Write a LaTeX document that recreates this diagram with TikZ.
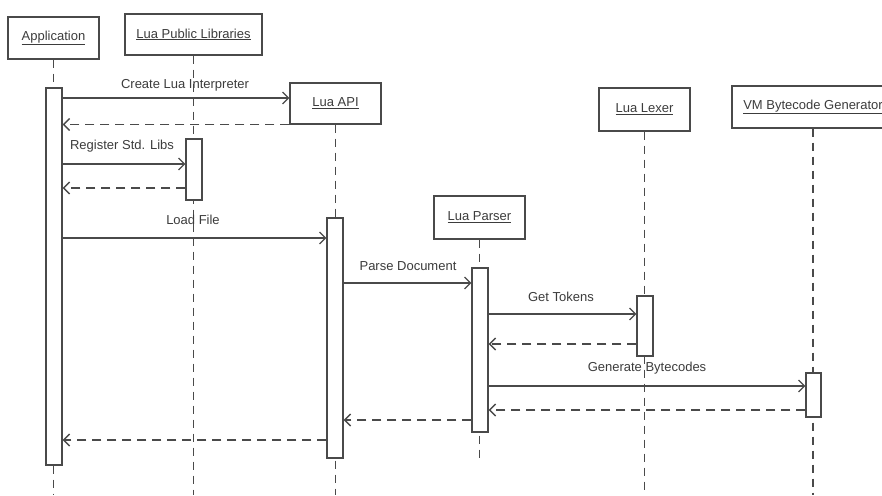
\documentclass[tikz,border=0pt]{standalone}
\usepackage{fontspec}
\setmainfont{Liberation Sans}
\usetikzlibrary{arrows.meta}
\definecolor{ink}{HTML}{4A4A4A}
\definecolor{txt}{HTML}{3C3C3C}
\begin{document}
\begin{tikzpicture}[x=1pt,y=-1pt,
  every node/.style={font=\fontsize{13}{15}\selectfont, text=txt},
  obj/.style={draw=ink, line width=1.3pt, fill=white, inner sep=0pt, minimum width=91pt, minimum height=42pt},
  actbar/.style={draw=ink, line width=1.2pt, fill=white, inner sep=0pt, minimum width=16pt},
  life/.style={draw=ink, line width=1.1pt, dash pattern=on 8pt off 6pt},
  call/.style={draw=ink, line width=1.2pt, -{Straight Barb[length=6pt,width=12pt]}},
  reply/.style={draw=ink, line width=1.4pt, dash pattern=on 9pt off 6pt, -{Straight Barb[length=6pt,width=12pt]}},
  lbl/.style={inner sep=0pt}
]
\useasboundingbox (0,0) rectangle (882,495);
\clip (0,0) rectangle (882,495);
\fill[white] (0,0) rectangle (882,495);

% objects
\node[obj] (app) at (53.5,38) {\underline{Application}};
\node[obj, minimum width=137pt, minimum height=41pt] (lib) at (193.5,34.5) {\underline{Lua Public Libraries}};
\node[obj, minimum height=41pt] (api) at (335.5,103.5) {\underline{Lua API}};
\node[obj, minimum height=43pt] (par) at (479.5,217.5) {\underline{Lua Parser}};
\node[obj, minimum height=43pt] (lex) at (644.5,109.5) {\underline{Lua Lexer}};
\node[obj, minimum width=162pt] (vm) at (813,107) {\underline{VM Bytecode Generator}};

% lifeline ends
\coordinate (append) at (53.5,495);
\coordinate (libend) at (193.5,495);
\coordinate (apiend) at (335.5,495);
\coordinate (parend) at (479.5,462);
\coordinate (lexend) at (644.5,495);
\coordinate (vmend) at (813,495);

\draw[life] (app.south) -- (append);
\draw[life] (lib.south) -- (libend);
\draw[life] (api.south) -- (apiend);
\draw[life] (par.south) -- (parend);
\draw[life] (lex.south) -- (lexend);
\draw[life] (vm.south) -- (vmend);

% activation bars
\node[actbar, minimum height=377pt] (appbar) at (54,276.5) {};
\node[actbar, minimum height=61pt] (libbar) at (194,169.5) {};
\node[actbar, minimum height=240pt] (apibar) at (335,338) {};
\node[actbar, minimum height=164pt] (parbar) at (480,350) {};
\node[actbar, minimum height=60pt] (lexbar) at (645,326) {};
\node[actbar, minimum width=15pt, minimum height=44pt] (vmbar) at (813.5,395) {};

% messages
\draw[call] (appbar.east |- 0,98) -- (api.west |- 0,98);
\node[lbl] (m1) at (185,85) {Create Lua Interpreter};
\draw[reply] (api.south west |- 0,124.5) -- (appbar.east |- 0,124.5);

\draw[call] (appbar.east |- 0,164) -- (libbar.west |- 0,164);
\node[lbl] (m2) at (122,146) {Register Std. Libs};
\draw[reply] (libbar.west |- 0,188) -- (appbar.east |- 0,188);

\draw[call] (appbar.east |- 0,238) -- (apibar.west |- 0,238);
\node[lbl] (m3) at (193,220) {Load File};

\draw[call] (apibar.east |- 0,283) -- (parbar.west |- 0,283);
\node[lbl] (m4) at (408,266) {Parse Document};

\draw[call] (parbar.east |- 0,314) -- (lexbar.west |- 0,314);
\node[lbl] (m5) at (561,297) {Get Tokens};
\draw[reply] (lexbar.west |- 0,344) -- (parbar.east |- 0,344);

\draw[call] (parbar.east |- 0,386) -- (vmbar.west |- 0,386);
\node[lbl] (m6) at (647,368) {Generate Bytecodes};
\draw[reply] (vmbar.west |- 0,410) -- (parbar.east |- 0,410);

\draw[reply] (parbar.west |- 0,420) -- (apibar.east |- 0,420);
\draw[reply] (apibar.west |- 0,440) -- (appbar.east |- 0,440);
\end{tikzpicture}
\end{document}
